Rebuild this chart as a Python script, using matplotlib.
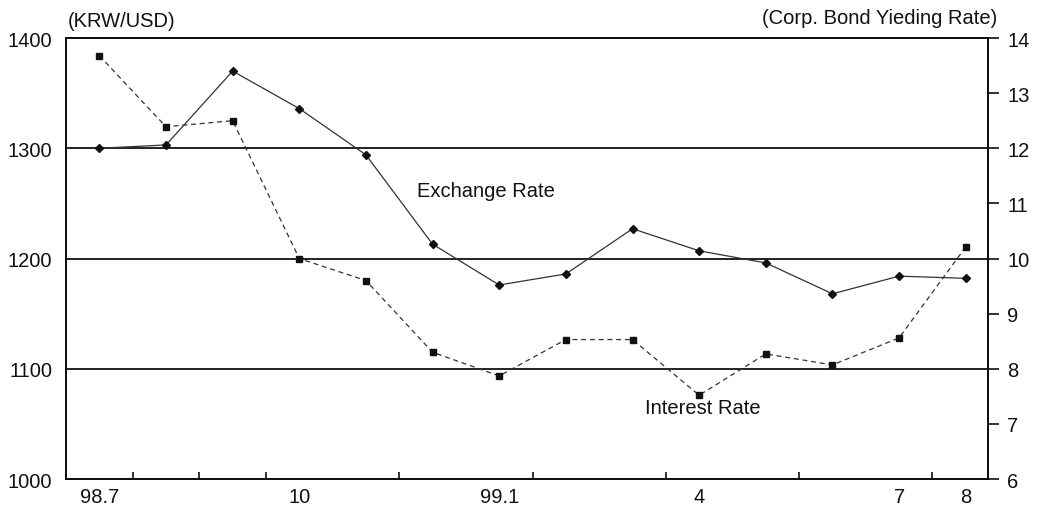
import matplotlib

matplotlib.use("Agg")
import matplotlib.pyplot as plt
import numpy as np

plt.rcParams["font.family"] = ["Liberation Sans", "DejaVu Sans"]

# 98.7 .. 99.8, monthly
months = ["98.7", "8", "9", "10", "11", "12", "99.1", "2", "3", "4", "5", "6", "7", "8"]
shown_labels = ["98.7", "", "", "10", "", "", "99.1", "", "", "4", "", "", "7", "8"]
exchange = [1300, 1303, 1370, 1336, 1294, 1213, 1176, 1186, 1227, 1207, 1196, 1168, 1184, 1182]
interest = [13.68, 12.39, 12.50, 10.00, 9.60, 8.30, 7.87, 8.53, 8.53, 7.52, 8.27, 8.07, 8.56, 10.21]
minor_x = [0.5, 1.5, 2.5, 4.5, 6.5, 8.5, 10.5, 12.5]

INK = "#111111"
FS = 14.5

fig = plt.figure(figsize=(10.43, 5.10), dpi=100, facecolor="white")
ax = fig.add_axes([0.0633, 0.0588, 0.8837, 0.8647])
x = np.arange(len(months))

# left axis: exchange rate
ax.set_xlim(-0.5, 13.33)
ax.set_ylim(1000, 1400)
for y in (1100, 1200, 1300):
    ax.axhline(y, color=INK, lw=1.3, zorder=1)
ax.plot(x, exchange, color="#333333", lw=0.9, marker="D", ms=4,
        mfc=INK, mec=INK, zorder=3)
ax.set_yticks([1000, 1100, 1200, 1300, 1400])
ax.tick_params(axis="y", length=0, pad=10, labelsize=FS, colors=INK)
ax.set_xticks(x)
ax.set_xticklabels(shown_labels, fontsize=FS, color=INK)
ax.tick_params(axis="x", which="major", length=0, pad=6)
ax.set_xticks(minor_x, minor=True)
ax.tick_params(axis="x", which="minor", direction="in", length=5, width=1.2, color=INK)
for s in ax.spines.values():
    s.set_color(INK)
    s.set_linewidth(1.4)

# right axis: corporate bond yield
ax2 = ax.twinx()
ax2.set_ylim(6, 14)
ax2.plot(x, interest, color="#333333", lw=0.9, ls=(0, (4, 3)), marker="s", ms=4.5,
         mfc=INK, mec=INK, zorder=3)
ax2.set_yticks(np.arange(6, 15, 1))
ax2.tick_params(axis="y", direction="out", length=8, width=1.2, pad=6,
                labelsize=FS, colors=INK)
for s in ax2.spines.values():
    s.set_color(INK)
    s.set_linewidth(1.4)

ax.text(-0.47, 1407, "(KRW/USD)", fontsize=FS, color=INK, va="bottom", ha="left")
ax2.text(13.48, 14.2, "(Corp. Bond Yieding Rate)", fontsize=FS, color=INK,
         va="bottom", ha="right")
ax.text(4.77, 1262, "Exchange Rate", fontsize=FS, color=INK, va="center", ha="left")
ax2.text(8.19, 7.3, "Interest Rate", fontsize=FS, color=INK, va="center", ha="left")

fig.savefig("out.png", dpi=100, facecolor="white")
